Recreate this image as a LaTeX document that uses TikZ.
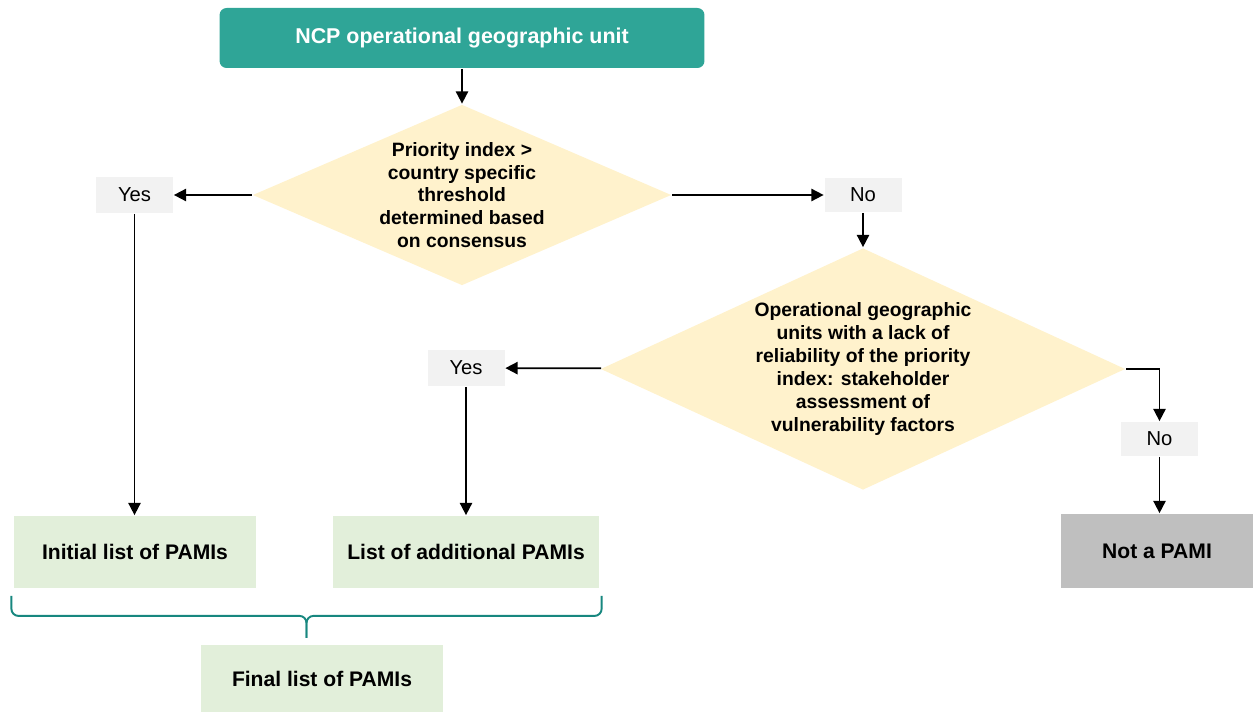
\documentclass[tikz,border=0pt]{standalone}
\usepackage{fontspec}
\setmainfont{Liberation Sans}
\usetikzlibrary{shapes.geometric,arrows.meta,calc}

\definecolor{unitfill}{HTML}{2FA597}
\definecolor{testfill}{HTML}{FFF2CC}
\definecolor{answerfill}{HTML}{F2F2F2}
\definecolor{listfill}{HTML}{E2EFDA}
\definecolor{rejectfill}{HTML}{BFBFBF}
\definecolor{bracecol}{HTML}{17877F}

\begin{document}
\begin{tikzpicture}[x=0.02cm,y=-0.02cm,auto=center,line width=1pt,>={Triangle[length=7pt,width=7pt]},every node/.style={rectangle,inner sep=0pt,font=\fontsize{12}{14}\selectfont\bfseries}]

\tikzstyle{unit}=[fill=unitfill,text=white,rounded corners=4pt,minimum width=9.7cm,minimum height=1.2cm,font=\fontsize{12.2}{14}\selectfont\bfseries];
\tikzstyle{test}=[shape=diamond,fill=testfill,align=center,font=\fontsize{11}{13}\selectfont\bfseries];
\tikzstyle{answer}=[fill=answerfill,minimum width=1.54cm,minimum height=0.72cm,font=\fontsize{11.5}{13}\selectfont];
\tikzstyle{list}=[fill=listfill,minimum width=4.84cm,minimum height=1.44cm];
\tikzstyle{reject}=[fill=rejectfill,minimum width=3.84cm,minimum height=1.48cm];
\tikzstyle{brace}=[draw=bracecol,line width=1.1pt,rounded corners=4pt];

\useasboundingbox (0,0) rectangle (1253,712);

\node[unit] (ncp) at (462,38) {NCP operational geographic unit};
\node[test,shape aspect=2.3,minimum width=8.38cm,minimum height=3.62cm] (q1) at (462,195) {Priority index >\\country specific\\threshold\\determined based\\on consensus};
\node[answer] (yes1) at (134.5,195) {Yes};
\node[answer,minimum height=0.68cm] (no1) at (863,195) {No};
\node[test,shape aspect=2.17,minimum width=10.5cm,minimum height=4.84cm] (q2) at (863,369) {Operational geographic\\units with a lack of\\reliability of the priority\\index: stakeholder\\assessment of\\vulnerability factors};
\node[answer] (yes2) at (466,368) {Yes};
\node[answer,minimum height=0.68cm] (no2) at (1159.5,439) {No};
\node[list] (init) at (135,552) {Initial list of PAMIs};
\node[list,minimum width=5.32cm] (add) at (466,552) {List of additional PAMIs};
\node[reject] (nota) at (1157,551) {Not a PAMI};
\node[list,minimum height=1.34cm] (final) at (322,678.5) {Final list of PAMIs};

\path[->] (ncp) edge (q1);
\path[->] (q1) edge (yes1);
\path[->] (yes1) edge (yes1 |- init.north);
\path[->] (q1) edge (no1);
\path[->] (no1) edge (q2);
\path[->] (q2) edge (yes2);
\path[->] (yes2) edge (add);
\draw[->] (q2.east) -| (no2);
\path[->] (no2) edge (no2 |- nota.north);

% both lists together
\coordinate (bl) at ([xshift=-1pt,yshift=-4pt]init.south west);
\coordinate (br) at ([xshift=1pt,yshift=-4pt]add.south east);
\coordinate (tip) at ($(bl)!0.5!(br)+(0,42)$);
\draw[brace] (bl) -- ++(0,20) -| (tip);
\draw[brace] (br) -- ++(0,20) -| (tip);

\end{tikzpicture}
\end{document}
